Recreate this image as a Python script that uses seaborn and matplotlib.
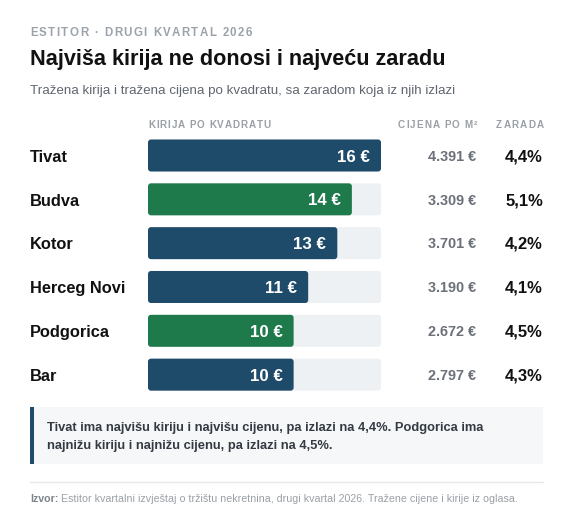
import matplotlib
matplotlib.use("Agg")
import matplotlib.pyplot as plt
import seaborn as sns
import pandas as pd
from matplotlib.patches import FancyBboxPatch, Rectangle
from matplotlib.lines import Line2D
from matplotlib import font_manager
from matplotlib.ft2font import FT2Font

# ---------------- data ----------------
cities = ["Tivat", "Budva", "Kotor", "Herceg Novi", "Podgorica", "Bar"]
rent_per_m2 = [16, 14, 13, 11, 10, 10]
price_per_m2 = [4391, 3309, 3701, 3190, 2672, 2797]
yield_pct = [4.4, 5.1, 4.2, 4.1, 4.5, 4.3]
highlight = ["Budva", "Podgorica"]

kicker = "ESTITOR · DRUGI KVARTAL 2026"
title = "Najviša kirija ne donosi i najveću zaradu"
subtitle = "Tražena kirija i tražena cijena po kvadratu, sa zaradom koja iz njih izlazi"
col_headers = ["KIRIJA PO KVADRATU", "CIJENA PO M²", "ZARADA"]
note = ("Tivat ima najvišu kiriju i najvišu cijenu, pa izlazi na 4,4%. Podgorica ima\n"
        "najnižu kiriju i najnižu cijenu, pa izlazi na 4,5%.")
source_lbl = "Izvor:"
source_txt = " Estitor kvartalni izvještaj o tržištu nekretnina, drugi kvartal 2026. Tražene cijene i kirije iz oglasa."

# ---------------- style ----------------
sns.set_theme(style="white")
plt.rcParams["font.family"] = ["Liberation Sans", "DejaVu Sans"]

BLUE = "#1f4b6b"
GREEN = "#1f7a4b"
TRACK = "#eef1f4"
GREY = "#9aa0a7"
DARK = "#111111"

W, H = 573, 527
fig = plt.figure(figsize=(W / 100, H / 100), dpi=100)
fig.patch.set_facecolor("white")


def fx(x):
    return x / W


def fy(y):
    return 1 - y / H


BOLD_FILE = font_manager.findfont(
    font_manager.FontProperties(family="Liberation Sans", weight="bold"))


def advances(s, size):
    f = FT2Font(BOLD_FILE)
    f.set_size(size, 100)
    out = []
    for ch in s:
        g = f.load_char(ord(ch))
        out.append(g.linearHoriAdvance / 65536.0)
    return out


def spaced(x0, x1, yb, s, size, color):
    """Letter-spaced bold text filling pixel span x0..x1, baseline yb."""
    adv = advances(s, size)
    gap = ((x1 - x0) - sum(adv)) / (len(s) - 1)
    cx = x0
    for ch, a in zip(s, adv):
        if ch != " ":
            fig.text(fx(cx), fy(yb), ch, fontsize=size, weight="bold", color=color,
                     va="baseline", ha="left")
        cx += a + gap


# ---------------- header texts ----------------
spaced(30, 252, 35.8, kicker, 8.3, "#9ca2a9")
fig.text(fx(30), fy(65), title, fontsize=15.6, weight="bold", color=DARK, va="baseline")
fig.text(fx(30), fy(94), subtitle, fontsize=9.62, color="#5f6670", va="baseline")

spaced(148, 271, 127.7, col_headers[0], 7.1, GREY)
spaced(398, 477, 127.7, col_headers[1], 7.1, GREY)
spaced(496, 544, 127.7, col_headers[2], 7.1, GREY)

# ---------------- bars ----------------
row0, row_step = 155.5, 43.83
n = len(cities)
top = row0 - row_step / 2
bottom = top + n * row_step
x0, x1 = 148, 381
ax = fig.add_axes([fx(x0), fy(bottom), (x1 - x0) / W, (bottom - top) / H])

df = pd.DataFrame({"city": cities, "rent": rent_per_m2})
df["track"] = max(rent_per_m2)
palette = {c: (GREEN if c in highlight else BLUE) for c in cities}
bar_w = 32 / row_step

sns.barplot(data=df, y="city", x="track", color=TRACK, width=bar_w, ax=ax,
            orient="h", saturation=1)
sns.barplot(data=df, y="city", x="rent", hue="city", palette=palette, width=bar_w,
            ax=ax, orient="h", saturation=1, legend=False)

ax.set_xlim(0, max(rent_per_m2))
ax.set_ylim(n - 0.5, -0.5)
ax.axis("off")

# rounded corners: replace rectangles with fancy boxes
px_per_x = (x1 - x0) / max(rent_per_m2)
px_per_y = row_step
aspect = px_per_x / px_per_y
for p in list(ax.patches):
    if not isinstance(p, Rectangle):
        continue
    bx, by = p.get_x(), p.get_y()
    bw, bh = p.get_width(), p.get_height()
    fc = p.get_facecolor()
    z = p.get_zorder()
    p.remove()
    fb = FancyBboxPatch((bx, by), bw, bh,
                        boxstyle=f"round,pad=0,rounding_size={3 / px_per_x:.4f}",
                        mutation_aspect=aspect, facecolor=fc, edgecolor="none",
                        zorder=z)
    ax.add_patch(fb)

# ---------------- row texts ----------------
for i, c in enumerate(cities):
    yc = row0 + i * row_step
    fig.text(fx(30), fy(yc + 6.2), c, fontsize=11.8, weight="bold", color=DARK,
             va="baseline")
    ax.annotate(f"{rent_per_m2[i]} €", (rent_per_m2[i], i), xytext=(-11, 0),
                textcoords="offset pixels", fontsize=12.2, weight="bold",
                color="white", va="center_baseline", ha="right")
    ptxt = f"{price_per_m2[i]:,}".replace(",", ".") + " €"
    fig.text(fx(476), fy(yc + 5.2), ptxt, fontsize=10.4, weight="bold", color="#6b7079",
             va="baseline", ha="right")
    ytxt = f"{yield_pct[i]:.1f}".replace(".", ",") + "%"
    fig.text(fx(543), fy(yc + 5.8), ytxt, fontsize=12, weight="bold", color=DARK,
             va="baseline", ha="right")

# ---------------- callout ----------------
fig.add_artist(Rectangle((fx(30), fy(464)), fx(543) - fx(30), fy(407) - fy(464),
                         transform=fig.transFigure, facecolor="#f5f7f9",
                         edgecolor="none"))
fig.add_artist(Rectangle((fx(30), fy(464)), fx(4), fy(407) - fy(464),
                         transform=fig.transFigure, facecolor=BLUE, edgecolor="none"))
fig.text(fx(47), fy(431.5), note.split("\n")[0], fontsize=9.25, weight="bold",
         color="#333a42", va="baseline", ha="left")
fig.text(fx(47), fy(449.5), note.split("\n")[1], fontsize=9.25, weight="bold",
         color="#333a42", va="baseline", ha="left")

# ---------------- footer ----------------
fig.add_artist(Line2D([fx(30), fx(543)], [fy(481.5), fy(481.5)], transform=fig.transFigure,
                      color="#e6e8eb", lw=1.0))
t1 = fig.text(fx(30), fy(502), source_lbl, fontsize=7.62, weight="bold", color="#7d848c",
              va="baseline", ha="left")
r = fig.canvas.get_renderer()
wl = t1.get_window_extent(r).width
fig.text(fx(30 + wl), fy(502), source_txt, fontsize=7.62, color="#9aa0a7",
         va="baseline", ha="left")

fig.savefig("out.png", dpi=100, facecolor="white")
